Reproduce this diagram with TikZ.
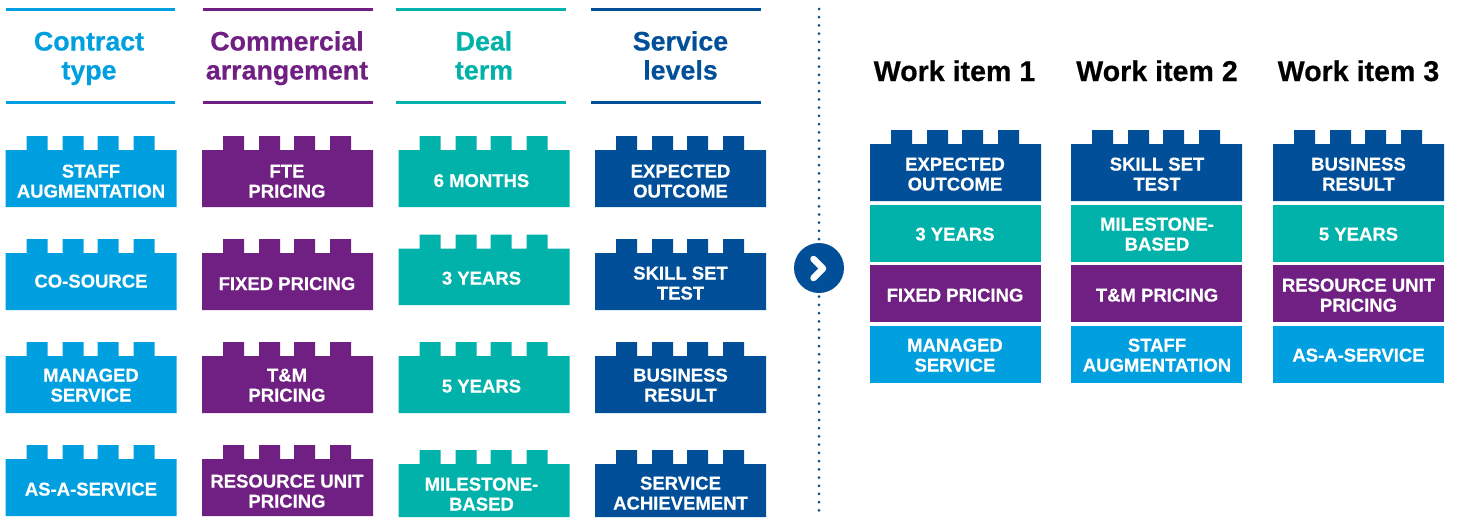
\documentclass[tikz,border=0pt]{standalone}
\usepackage{fontspec}
\setmainfont[BoldFeatures={FakeBold=0.5}]{Liberation Sans}
\definecolor{cCyan}{HTML}{009FDF}
\definecolor{cPurple}{HTML}{702082}
\definecolor{cTeal}{HTML}{00B2A9}
\definecolor{cNavy}{HTML}{004F98}
\tikzset{
  lbl/.style={text=white,anchor=south,inner sep=0pt,outer sep=0pt,align=center,text depth=0pt,
    font=\fontsize{18.5}{20}\selectfont\bfseries},
  hdr/.style={anchor=south,inner sep=0pt,outer sep=0pt,align=center,text depth=0pt,
    font=\fontsize{26.8}{29}\selectfont\bfseries},
  wrk/.style={anchor=south,inner sep=0pt,outer sep=0pt,text depth=0pt,text=black,
    font=\fontsize{28.6}{30}\selectfont\bfseries},
  rule/.style={line width=3pt},
}
% name, left x, top y, bottom y, colour, text centre x, last baseline y, text
\newcommand\brickA[8]{%
  \fill[#5] (#2,#3+14) -- ++(21,0) -- ++(0,-14) -- ++(21,0) -- ++(0,14) -- ++(15,0) -- ++(0,-14) -- ++(21,0) -- ++(0,14)
    -- ++(14,0) -- ++(0,-14) -- ++(21,0) -- ++(0,14) -- ++(15,0) -- ++(0,-14) -- ++(21,0) -- ++(0,14) -- ++(22,0)
    -- (#2+171,#4) -- (#2,#4) -- cycle;
  \node[lbl] (#1) at (#6,#7) {#8};}
% name, left x, top y, bottom y, colour, text centre x, last baseline y, text
\newcommand\slabA[8]{%
  \fill[#5] (#2,#3) rectangle (#2+171,#4);
  \node[lbl] (#1) at (#6,#7) {#8};}
\newcommand\headA[6]{% name, x1, x2, colour, centre, text
  \draw[rule,#4] (#2,9.5) -- (#3,9.5);
  \draw[rule,#4] (#2,102) -- (#3,102);
  \node[hdr,text=#4] (#1) at (#5,79.5) {#6};}
\begin{document}
\begin{tikzpicture}[x=1pt,y=-1pt]
\useasboundingbox (0,0) rectangle (1457,517);
\headA{h1}{6}{175}{cCyan}{89}{Contract\\type}
\headA{h2}{203}{373}{cPurple}{287}{Commercial\\arrangement}
\headA{h3}{396}{566}{cTeal}{484}{Deal\\term}
\headA{h4}{591}{761}{cNavy}{680.5}{Service\\levels}
% column 1
\brickA{a1}{5.5}{136}{207}{cCyan}{91}{197.5}{STAFF\\AUGMENTATION}
\brickA{a2}{5.5}{239}{310}{cCyan}{91}{287.5}{CO-SOURCE}
\brickA{a3}{5.5}{342}{413}{cCyan}{91}{401.5}{MANAGED\\SERVICE}
\brickA{a4}{5.5}{445}{516}{cCyan}{91}{495.5}{AS-A-SERVICE}
% column 2
\brickA{b1}{202}{136}{207}{cPurple}{287}{197.5}{FTE\\PRICING}
\brickA{b2}{202}{239}{310}{cPurple}{287}{290}{FIXED PRICING}
\brickA{b3}{202}{342}{413}{cPurple}{287}{401.5}{T\&M\\PRICING}
\brickA{b4}{202}{445}{516}{cPurple}{287}{507.5}{RESOURCE UNIT\\PRICING}
% column 3
\brickA{c1}{398.5}{136}{207}{cTeal}{481.5}{187}{6 MONTHS}
\brickA{c2}{398.5}{234.5}{305}{cTeal}{481.5}{284.5}{3 YEARS}
\brickA{c3}{398.5}{342}{413}{cTeal}{481.5}{392.5}{5 YEARS}
\brickA{c4}{398.5}{450}{517}{cTeal}{481.5}{510.5}{MILESTONE-\\BASED}
% column 4
\brickA{d1}{595}{136}{207}{cNavy}{680.5}{197.5}{EXPECTED\\OUTCOME}
\brickA{d2}{595}{239}{310}{cNavy}{680.5}{299.5}{SKILL SET\\TEST}
\brickA{d3}{595}{342}{413}{cNavy}{680.5}{401.5}{BUSINESS\\RESULT}
\brickA{d4}{595}{450}{517}{cNavy}{680.5}{509.5}{SERVICE\\ACHIEVEMENT}
% divider
\coordinate (divtop) at (819,9);
\coordinate (divbot) at (819,513);
\draw[cNavy,line width=3pt,line cap=round,dash pattern=on 0pt off 8.22pt] (divtop) -- (divbot);
\node[circle,fill=cNavy,minimum size=50pt,inner sep=0pt] (go) at (819,268) {};
\coordinate (cha) at (813.5,259);
\coordinate (chb) at (823,268.5);
\coordinate (chc) at (813.5,278);
\draw[white,line width=6.5pt,line cap=round,line join=round] (cha) -- (chb) -- (chc);
% work items
\node[wrk] (w1) at (954.5,81) {Work item 1};
\node[wrk] (w2) at (1157,81) {Work item 2};
\node[wrk] (w3) at (1358.5,81) {Work item 3};
\brickA{e1}{870}{130}{201}{cNavy}{955}{190.5}{EXPECTED\\OUTCOME}
\slabA{e2}{870}{205}{262}{cTeal}{955}{240.5}{3 YEARS}
\slabA{e3}{870}{265}{322}{cPurple}{955}{301.5}{FIXED PRICING}
\slabA{e4}{870}{326}{383}{cCyan}{955}{371.5}{MANAGED\\SERVICE}
\brickA{f1}{1071}{130}{201}{cNavy}{1157}{190.5}{SKILL SET\\TEST}
\slabA{f2}{1071}{205}{262}{cTeal}{1157}{250.5}{MILESTONE-\\BASED}
\slabA{f3}{1071}{265}{322}{cPurple}{1157}{301.5}{T\&M PRICING}
\slabA{f4}{1071}{326}{383}{cCyan}{1157}{371.5}{STAFF\\AUGMENTATION}
\brickA{g1}{1273}{130}{201}{cNavy}{1358.5}{190.5}{BUSINESS\\RESULT}
\slabA{g2}{1273}{205}{262}{cTeal}{1358.5}{240.5}{5 YEARS}
\slabA{g3}{1273}{265}{322}{cPurple}{1358.5}{311.5}{RESOURCE UNIT\\PRICING}
\slabA{g4}{1273}{326}{383}{cCyan}{1358.5}{361.5}{AS-A-SERVICE}
\end{tikzpicture}
\end{document}
